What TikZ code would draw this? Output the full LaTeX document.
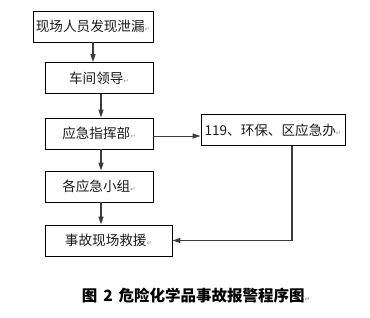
\documentclass[tikz,border=0pt]{standalone}
\usepackage{fontspec}
\newfontfamily\cjk{Noto Sans CJK SC}
\newfontfamily\symf{DejaVu Sans}
\usetikzlibrary{arrows.meta,positioning,calc}
\definecolor{Ink}{HTML}{1A1A1A}
\definecolor{Wire}{HTML}{3C3C3C}
\definecolor{Mark}{HTML}{9A9A9A}
\newcommand{\pmark}{{\symf\color{Mark}\fontsize{6.5}{6.5}\selectfont ↵}}
\tikzset{
  stepbox/.style={draw=black,line width=.9pt,minimum height=31pt,inner sep=0pt,font=\cjk\fontsize{13.6}{13.6}\selectfont,text=Ink},
  flow/.style={-{Triangle[length=8pt,width=5pt]},draw=Wire,line width=1.4pt},
}

\begin{document}
\begin{tikzpicture}[x=1pt,y=-1pt]
  \useasboundingbox (0,0) rectangle (370,317);
  \node[stepbox,minimum width=120pt] (find) at (93,26.5) {现场人员发现泄漏\pmark};
  \node[stepbox,minimum width=108pt] (lead) at (99,78) {车间领导\pmark};
  \node[stepbox,minimum width=108pt] (cmd) at (99,133.5) {应急指挥部\pmark};
  \node[stepbox,minimum width=144pt] (ext) at (273,130) {119、环保、区应急办\pmark};
  \node[stepbox,minimum width=108pt] (team) at (99,186.5) {各应急小组\pmark};
  \node[stepbox,minimum width=127pt] (site) at (108.5,240.5) {事故现场救援\pmark};
  \draw[flow] (find.south) -- (find.south |- lead.north);
  \draw[flow] ([xshift=2pt]lead.south) -- ([xshift=2pt]lead.south |- cmd.north);
  \draw[flow] ([xshift=2pt]cmd.south) -- ([xshift=2pt]cmd.south |- team.north);
  \draw[flow] ([xshift=2pt]team.south) -- ([xshift=2pt]team.south |- site.north);
  \draw[flow,line width=1pt] ([yshift=-2.5pt]cmd.east) -- ([yshift=-2.5pt]cmd.east -| ext.west);
  \draw[flow] ([xshift=19pt]ext.south) |- (site.east);
  \node[font=\cjk\bfseries\fontsize{15.5}{15.5}\selectfont] (cap) at (196,296) {图\hspace{6pt}2\hspace{6pt}危险化学品事故报警程序图\pmark};
\end{tikzpicture}
\end{document}
